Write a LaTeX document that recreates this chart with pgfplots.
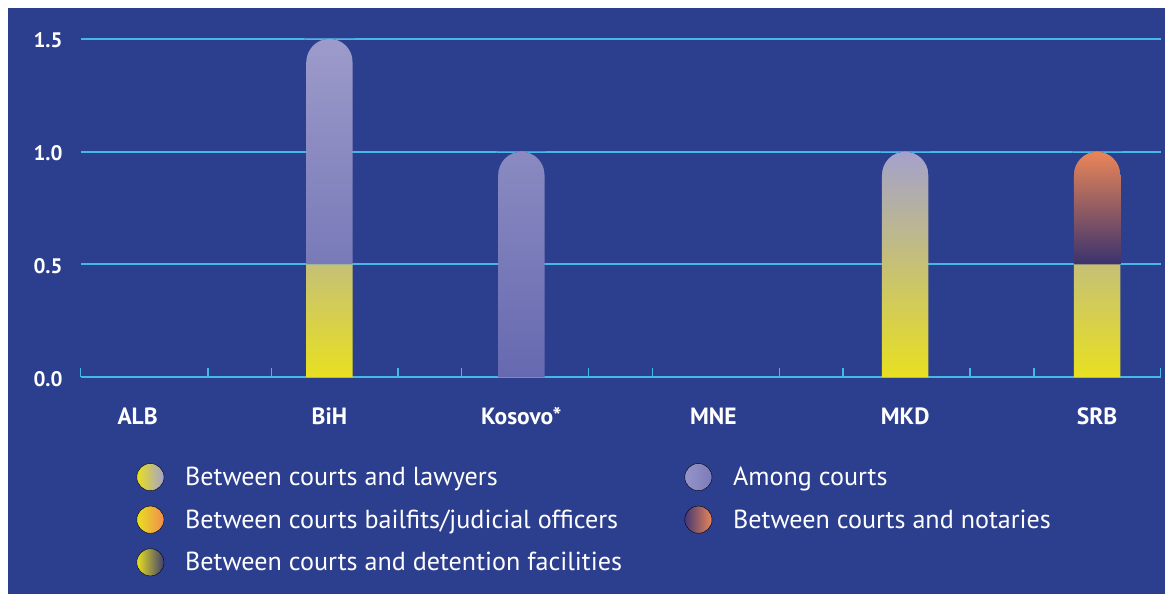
\documentclass[border=0pt]{standalone}
\usepackage{pgfplots}
\pgfplotsset{compat=1.18}
\usepackage{fontspec}
\setmainfont{PT Sans}
\definecolor{bg}{RGB}{44,62,142}
\definecolor{gridc}{RGB}{70,184,232}
\definecolor{yel}{RGB}{232,224,32}
\definecolor{lav}{RGB}{164,161,204}
\definecolor{amtop}{RGB}{157,155,202}
\definecolor{ambot}{RGB}{102,105,176}
\definecolor{notop}{RGB}{234,134,88}
\definecolor{nobot}{RGB}{58,50,110}
\definecolor{orng}{RGB}{240,140,78}
\definecolor{detc}{RGB}{62,62,112}
\definecolor{amleft}{RGB}{150,148,200}
\definecolor{amright}{RGB}{124,123,186}
\definecolor{noleft}{RGB}{70,55,115}

\def\capcorners{%
  \pgfpathmoveto{\pgfqpoint{\dimexpr-\pgfplotmarksize-1.5pt\relax}{-\pgfplotmarksize}}%
  \pgfpathlineto{\pgfqpoint{\dimexpr-\pgfplotmarksize-1.5pt\relax}{0pt}}%
  \pgfpathlineto{\pgfqpoint{0pt}{0pt}}%
  \pgfpatharc{90}{180}{\pgfplotmarksize}%
  \pgfpathclose
  \pgfpathmoveto{\pgfqpoint{\dimexpr\pgfplotmarksize+1.5pt\relax}{-\pgfplotmarksize}}%
  \pgfpathlineto{\pgfqpoint{\dimexpr\pgfplotmarksize+1.5pt\relax}{0pt}}%
  \pgfpathlineto{\pgfqpoint{0pt}{0pt}}%
  \pgfpatharc{90}{0}{\pgfplotmarksize}%
  \pgfpathclose}
\pgfdeclareplotmark{capmask}{%
  \pgfsetfillcolor{bg}%
  \capcorners
  \pgfusepathqfill
  \pgfscope
    \pgfpathrectanglecorners{\pgfqpoint{-40pt}{-1pt}}{\pgfqpoint{40pt}{0pt}}%
    \pgfusepath{clip}%
    \pgfsetfillcolor{gridc}%
    \capcorners
    \pgfusepathqfill
  \endpgfscope
}

\begin{document}
\begin{tikzpicture}
\useasboundingbox (0pt,0pt) rectangle (1165pt,594pt);
\fill[bg] (8pt,0pt) rectangle (1165pt,586pt);
\begin{axis}[
  at={(80.7pt,216.7pt)}, anchor=south west,
  scale only axis, width=1080pt, height=338.6pt,
  xmin=-0.2965, xmax=5.3315, ymin=0, ymax=1.5,
  ybar stacked, bar width=46.5pt,
  axis lines*=left,
  x axis line style={gridc, line width=1.6pt, -},
  y axis line style={draw=none},
  ymajorgrids, grid style={gridc, line width=2pt},
  major tick length=0pt,
  tick align=inside,
  xtick={0,1,2,3,4,5},
  xticklabels={ALB,BiH,Kosovo*,MNE,MKD,SRB},
  ytick={0,0.5,1,1.5},
  yticklabels={0.0,0.5,1.0,1.5},
  xticklabel style={font=\bfseries\fontsize{23.5}{28}\selectfont, text=white, anchor=base, yshift=-47.7pt},
  yticklabel style={font=\bfseries\fontsize{21}{25}\selectfont, text=white, anchor=base east, inner sep=0pt, xshift=-18pt, yshift=-9.3pt},
  extra x ticks={-0.2965,0.3663,0.6972,1.3580,1.6894,2.3502,2.6837,3.3450,3.6769,4.3377,4.6706,5.3315},
  extra x tick labels={},
  extra x tick style={grid=none, major tick length=9pt, tick style={draw=gridc, line width=1.4pt}},
  legend columns=2,
  legend cell align=left,
  legend style={draw=none, fill=none, at={(0,0)}, anchor=north west, xshift=55.7pt, yshift=-85.8pt,
    font=\fontsize{26.1}{30}\selectfont, text=white, inner sep=0pt,
    nodes={inner sep=0pt}, row sep=15pt,
    /tikz/every odd column/.style={column sep=21pt},
    /tikz/every even column/.style={column sep=62.5pt},
    /tikz/column 3/.style={column sep=18pt}},
]
\addplot[forget plot, draw=none, top color=lav, bottom color=yel]
  coordinates {(0,0) (1,0.5) (2,0) (3,0) (4,1) (5,0.5)};
\addplot[forget plot, draw=none, top color=amtop, bottom color=ambot]
  coordinates {(0,0) (1,1) (2,1) (3,0) (4,0) (5,0)};
\addplot[forget plot, draw=none, top color=notop, bottom color=nobot]
  coordinates {(0,0) (1,0) (2,0) (3,0) (4,0) (5,0.5)};
\addplot[forget plot, stack plots=false, only marks, mark=capmask, mark size=23.25pt, color=bg, fill=bg]
  coordinates {(1,1.5) (2,1) (4,1) (5,1)};

\addlegendimage{legend image code/.code={\shade[left color=yel,right color=lav] (13.6pt,0pt) circle[radius=13.6pt];}}
\addlegendentry{Between courts and lawyers}
\addlegendimage{legend image code/.code={\shade[left color=amleft,right color=amright] (13.6pt,0pt) circle[radius=13.6pt];}}
\addlegendentry{Among courts}
\addlegendimage{legend image code/.code={\shade[left color=yel,right color=orng] (13.6pt,0pt) circle[radius=13.6pt];}}
\addlegendentry{Between courts bailfits/judicial officers}
\addlegendimage{legend image code/.code={\shade[left color=noleft,right color=notop] (13.6pt,0pt) circle[radius=13.6pt];}}
\addlegendentry{Between courts and notaries}
\addlegendimage{legend image code/.code={\shade[left color=yel,right color=detc] (13.6pt,0pt) circle[radius=13.6pt];}}
\addlegendentry{Between courts and detention facilities}
\end{axis}
\end{tikzpicture}
\end{document}
